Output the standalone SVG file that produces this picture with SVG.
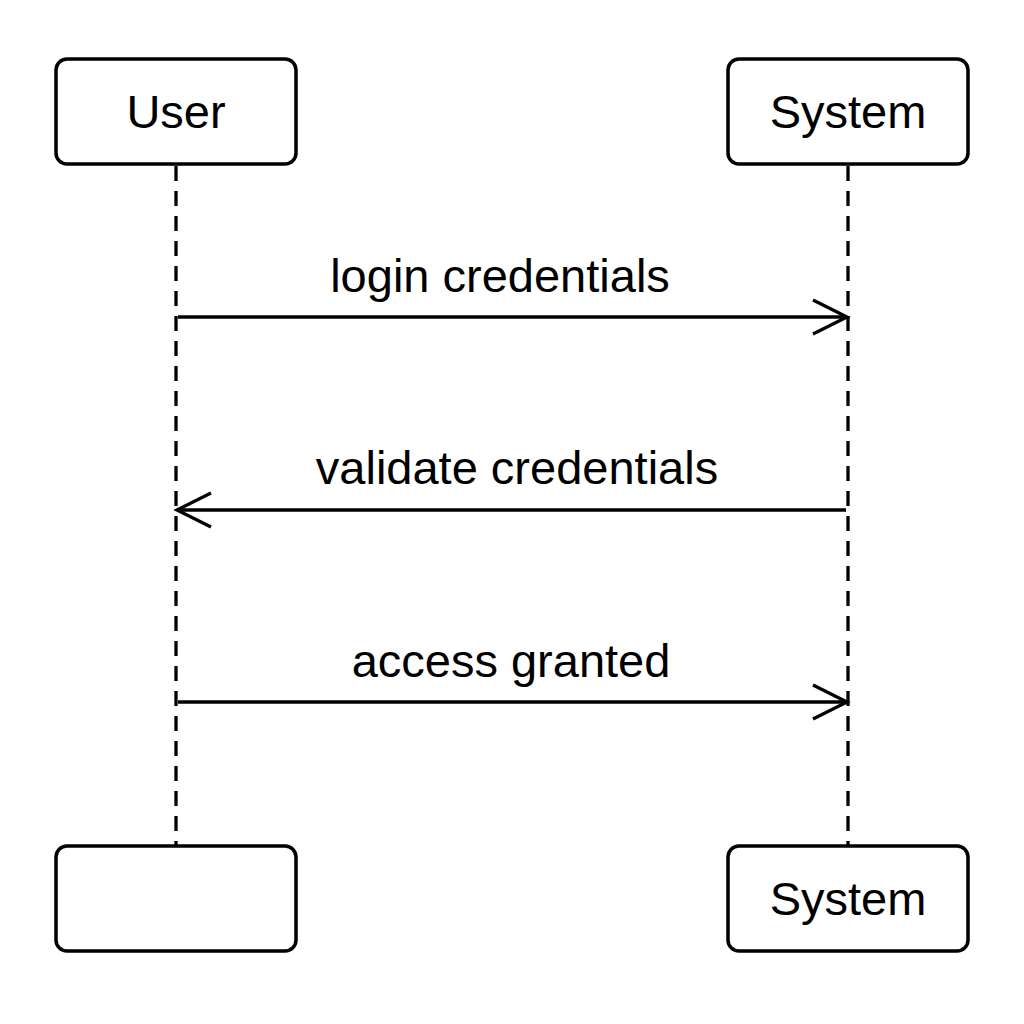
<svg xmlns="http://www.w3.org/2000/svg" width="1024" height="1024" viewBox="0 0 1024 1024">
<style>
.box{fill:#fff;stroke:#000;stroke-width:3.5}
.life{stroke:#000;stroke-width:3.3;stroke-dasharray:15 10;fill:none}
.msg{stroke:#000;stroke-width:3.3;fill:none}
.t{font-family:"Liberation Sans",Arial,sans-serif;font-size:47px;fill:#000;text-anchor:middle}
</style>
<defs>
<marker id="open" markerWidth="40" markerHeight="40" refX="36" refY="20" orient="auto" markerUnits="userSpaceOnUse" viewBox="0 0 40 40">
<path d="M2,3 L36,20 L2,37" fill="none" stroke="#000" stroke-width="3.3"/>
</marker>
</defs>
<rect width="1024" height="1024" fill="#fff"/>
<g id="lifelines">
<line class="life" x1="176" y1="166" x2="176" y2="846"/>
<line class="life" x1="848" y1="166" x2="848" y2="846"/>
</g>
<g id="user-top"><rect class="box" x="56" y="59" width="240" height="105" rx="11"/><text class="t" x="176" y="128">User</text></g>
<g id="system-top"><rect class="box" x="728" y="59" width="240" height="105" rx="11"/><text class="t" x="848" y="128">System</text></g>
<g id="user-bottom"><rect class="box" x="56" y="846" width="240" height="105" rx="11"/></g>
<g id="system-bottom"><rect class="box" x="728" y="846" width="240" height="105" rx="11"/><text class="t" x="848" y="915">System</text></g>
<g id="connectors">
<line class="msg" x1="178" y1="317" x2="847" y2="317" marker-end="url(#open)"/>
<line class="msg" x1="846" y1="510" x2="177" y2="510" marker-end="url(#open)"/>
<line class="msg" x1="178" y1="702" x2="847" y2="702" marker-end="url(#open)"/>
<text class="t" x="500" y="292">login credentials</text>
<text class="t" x="517" y="484">validate credentials</text>
<text class="t" x="511" y="677">access granted</text>
</g>
</svg>
